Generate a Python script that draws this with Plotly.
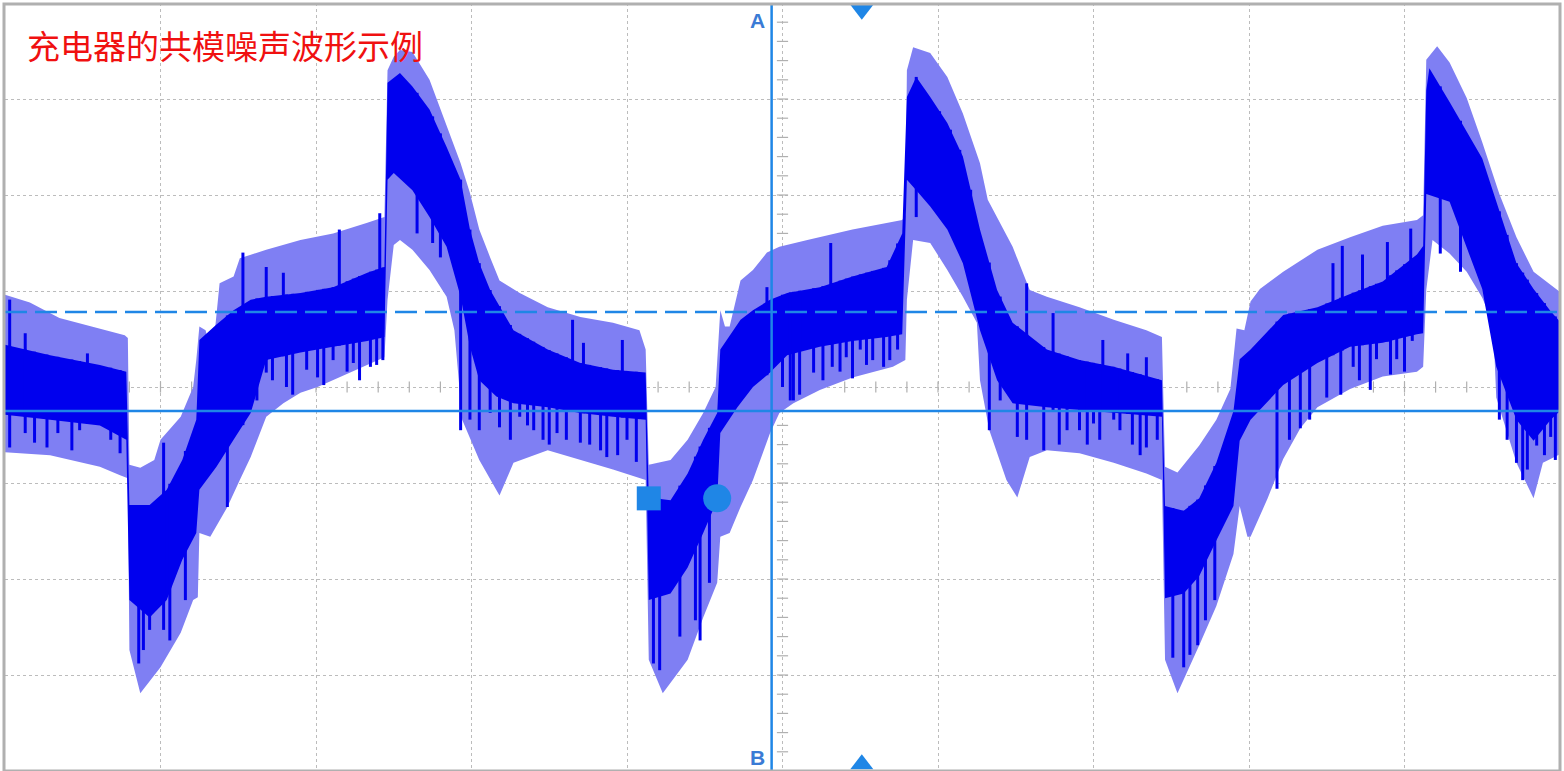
import numpy as np
import plotly.graph_objects as go

# ---- waveform envelopes (x in horizontal divisions 0..10, y in vertical divisions -4..4) ----
LU_X = [0.00, 0.16, 0.35, 0.61, 0.77, 0.79, 0.80, 0.87, 0.96, 1.00, 1.13, 1.21, 1.23, 1.25, 1.29, 1.32, 1.35, 1.38, 1.47, 1.51, 1.58, 1.68, 1.90, 2.11, 2.33, 2.44,
        2.46, 2.50, 2.54, 2.62, 2.73, 2.84, 2.93, 2.99, 3.05, 3.12, 3.18, 3.31, 3.49, 3.70, 3.91, 4.08, 4.12,
        4.14, 4.28, 4.39, 4.49, 4.57, 4.60, 4.63, 4.66, 4.73, 4.81, 4.90, 4.98, 5.16, 5.45, 5.77, 5.79,
        5.80, 5.84, 5.95, 6.06, 6.16, 6.27, 6.32, 6.38, 6.48, 6.59, 6.70, 6.91, 7.13, 7.34, 7.44,
        7.46, 7.54, 7.68, 7.79, 7.88, 7.92, 7.97, 8.01, 8.07, 8.22, 8.44, 8.65, 8.86, 9.08, 9.12,
        9.14, 9.21, 9.29, 9.40, 9.50, 9.61, 9.72, 9.83, 9.94, 10.0]
LU_Y = [0.96, 0.88, 0.72, 0.61, 0.54, 0.51, -0.81, -0.84, -0.76, -0.55, -0.31, 0.00, 0.28, 0.63, 0.59, 0.39, 0.59, 1.08, 1.15, 1.34, 1.38, 1.43, 1.53, 1.60, 1.71, 1.77,
        3.30, 3.44, 3.51, 3.49, 3.20, 2.71, 2.33, 2.02, 1.64, 1.35, 1.11, 0.98, 0.83, 0.73, 0.67, 0.59, 0.39,
        -0.81, -0.76, -0.55, -0.27, 0.00, 0.80, 0.63, 0.63, 1.11, 1.22, 1.40, 1.46, 1.53, 1.64, 1.74, 1.79,
        3.30, 3.54, 3.48, 3.23, 2.85, 2.33, 1.95, 1.77, 1.46, 1.01, 0.94, 0.83, 0.70, 0.59, 0.52,
        -0.83, -0.89, -0.61, -0.34, -0.02, 0.61, 0.59, 0.89, 1.02, 1.20, 1.43, 1.56, 1.68, 1.74, 1.79,
        3.41, 3.55, 3.38, 3.01, 2.55, 2.01, 1.56, 1.20, 1.06, 0.99]

LL_X = [0.00, 0.29, 0.61, 0.74, 0.79, 0.80, 0.87, 1.00, 1.13, 1.21, 1.24, 1.25, 1.32, 1.43, 1.51, 1.58, 1.68, 1.79, 1.90, 2.01, 2.22, 2.44,
        2.46, 2.50, 2.54, 2.62, 2.73, 2.84, 2.89, 2.94, 3.05, 3.18, 3.27, 3.49, 3.70, 3.91, 4.12,
        4.14, 4.23, 4.39, 4.49, 4.58, 4.60, 4.66, 4.73, 4.81, 4.92, 4.98, 5.07, 5.24, 5.45, 5.71, 5.79,
        5.80, 5.84, 5.95, 6.06, 6.16, 6.25, 6.27, 6.33, 6.44, 6.51, 6.59, 6.70, 6.91, 7.13, 7.34, 7.44,
        7.46, 7.54, 7.68, 7.79, 7.90, 7.94, 7.99, 8.01, 8.12, 8.22, 8.33, 8.44, 8.65, 8.86, 9.08, 9.12,
        9.14, 9.18, 9.29, 9.40, 9.50, 9.57, 9.59, 9.72, 9.83, 9.89, 10.0]
LL_Y = [-0.68, -0.71, -0.83, -0.92, -0.95, -2.74, -3.19, -2.92, -2.56, -2.22, -2.19, -1.52, -1.56, -1.25, -0.97, -0.73, -0.31, -0.17, -0.06, 0.00, 0.15, 0.31,
        0.91, 1.48, 1.53, 1.43, 1.22, 0.94, 0.59, -0.34, -0.76, -1.13, -0.79, -0.66, -0.76, -0.86, -0.97,
        -2.84, -3.19, -2.84, -2.40, -2.04, -1.56, -1.52, -1.25, -0.97, -0.48, -0.27, -0.17, -0.03, 0.10, 0.21, 0.28,
        0.91, 1.53, 1.50, 1.22, 0.94, 0.67, 0.07, -0.45, -0.97, -1.15, -0.73, -0.66, -0.69, -0.79, -0.90, -0.97,
        -2.84, -3.19, -2.69, -2.28, -1.74, -1.24, -1.56, -1.56, -1.16, -0.75, -0.43, -0.21, -0.02, 0.11, 0.16, 0.21,
        1.01, 1.53, 1.39, 1.20, 0.93, 0.66, -0.11, -0.79, -1.16, -0.79, -0.70]

DU_X = [0.00, 0.29, 0.61, 0.78, 0.80, 0.93, 1.04, 1.14, 1.23, 1.25, 1.36, 1.47, 1.58, 1.68, 1.90, 2.11, 2.33, 2.44,
        2.46, 2.54, 2.62, 2.73, 2.84, 2.93, 2.99, 3.05, 3.12, 3.27, 3.49, 3.70, 3.91, 4.12,
        4.14, 4.28, 4.39, 4.49, 4.58, 4.60, 4.73, 4.81, 4.92, 5.03, 5.24, 5.45, 5.67, 5.77,
        5.80, 5.86, 5.95, 6.06, 6.16, 6.27, 6.38, 6.48, 6.70, 6.91, 7.13, 7.44,
        7.46, 7.58, 7.68, 7.79, 7.90, 7.94, 8.01, 8.22, 8.44, 8.65, 8.86, 9.08, 9.12,
        9.14, 9.16, 9.29, 9.50, 9.61, 9.72, 9.83, 9.94, 10.0]
DU_Y = [0.44, 0.33, 0.23, 0.16, -1.23, -1.23, -1.07, -0.76, -0.34, 0.49, 0.65, 0.80, 0.91, 0.94, 0.98, 1.04, 1.19, 1.25,
        3.17, 3.27, 3.13, 2.89, 2.50, 2.16, 1.64, 1.29, 1.01, 0.59, 0.39, 0.25, 0.18, 0.15,
        -1.15, -1.18, -0.90, -0.55, -0.27, 0.39, 0.70, 0.80, 0.91, 0.98, 1.04, 1.15, 1.25, 1.60,
        3.02, 3.23, 3.02, 2.75, 2.40, 1.64, 1.01, 0.67, 0.39, 0.28, 0.21, 0.07,
        -1.24, -1.29, -1.16, -0.79, -0.25, 0.29, 0.39, 0.75, 0.83, 0.97, 1.10, 1.38, 1.47,
        3.09, 3.32, 2.97, 2.38, 1.83, 1.29, 1.02, 0.79, 0.68]

DL_X = [0.00, 0.29, 0.61, 0.78, 0.80, 0.93, 1.04, 1.14, 1.23, 1.25, 1.36, 1.47, 1.58, 1.68, 1.90, 2.11, 2.33, 2.44,
        2.46, 2.50, 2.62, 2.73, 2.84, 2.93, 2.99, 3.05, 3.16, 3.27, 3.49, 3.70, 3.91, 4.12,
        4.14, 4.28, 4.39, 4.49, 4.58, 4.60, 4.71, 4.81, 4.92, 5.03, 5.24, 5.45, 5.67, 5.77,
        5.80, 5.86, 5.95, 6.06, 6.16, 6.27, 6.38, 6.48, 6.70, 6.91, 7.13, 7.44,
        7.46, 7.58, 7.68, 7.79, 7.90, 7.94, 8.01, 8.22, 8.44, 8.65, 8.86, 9.08, 9.12,
        9.14, 9.29, 9.50, 9.59, 9.72, 9.83, 9.94, 10.0]
DL_Y = [-0.29, -0.34, -0.40, -0.55, -2.22, -2.40, -2.22, -1.80, -1.52, -1.07, -0.83, -0.55, -0.27, 0.28, 0.36, 0.42, 0.48, 0.52,
        2.16, 2.23, 2.05, 1.77, 1.46, 0.94, 0.42, 0.07, -0.10, -0.17, -0.21, -0.27, -0.31, -0.34,
        -2.22, -2.15, -1.88, -1.52, -1.18, -0.48, -0.21, 0.00, 0.15, 0.33, 0.42, 0.48, 0.52, 0.55,
        2.16, 2.05, 1.88, 1.64, 1.29, 0.59, 0.07, -0.17, -0.21, -0.24, -0.27, -0.31,
        -2.20, -2.15, -1.97, -1.60, -1.24, -0.56, -0.34, 0.02, 0.25, 0.42, 0.46, 0.55, 0.56,
        2.01, 1.93, 1.02, 0.21, -0.34, -0.56, -0.34, -0.25]

# noise spikes below the dark band (x, tip)
SPK_DN_X = [0.03, 0.13, 0.19, 0.27, 0.34, 0.43, 0.48, 0.68, 0.74, 0.86, 0.89, 0.93, 1.02, 1.06, 1.16,
            1.43, 1.62, 1.68, 1.72, 1.81, 1.85, 1.94, 2.01, 2.05, 2.11, 2.20, 2.24, 2.28, 2.35, 2.39, 2.43,
            2.65, 2.75, 2.80, 2.93, 2.99, 3.05, 3.12, 3.18, 3.25, 3.31, 3.36, 3.40, 3.46, 3.50, 3.55, 3.61,
            3.70, 3.76, 3.83, 3.87, 3.94, 4.00, 4.06,
            4.17, 4.21, 4.34, 4.44, 4.47, 4.53, 5.00, 5.05, 5.07, 5.11, 5.20, 5.26, 5.32, 5.37, 5.41, 5.45,
            5.50, 5.54, 5.58, 5.65, 5.69, 5.74,
            5.86, 6.01, 6.08, 6.14, 6.21, 6.33, 6.40, 6.51, 6.57, 6.68, 6.74, 6.78, 6.83, 6.91, 6.96, 7.00,
            7.04, 7.13, 7.17, 7.25, 7.30, 7.34, 7.41,
            7.51, 7.58, 7.62, 7.67, 7.72, 7.78, 8.18, 8.26, 8.33, 8.39, 8.50, 8.59, 8.67, 8.71, 8.78, 8.82,
            8.91, 8.95, 9.00, 9.05,
            9.23, 9.36, 9.61, 9.66, 9.72, 9.76, 9.79, 9.85, 9.90, 9.94, 9.97]
SPK_DN_Y = [-0.63, -0.48, -0.58, -0.63, -0.48, -0.66, -0.45, -0.55, -0.69, -2.88, -2.74, -2.53, -2.53, -2.64, -2.22,
            -1.25, -0.14, 0.15, 0.07, 0.00, -0.08, 0.18, 0.10, 0.02, 0.28, 0.16, 0.25, 0.07, 0.21, 0.23, 0.28,
            1.60, 1.50, 1.35, -0.45, -0.34, -0.45, -0.27, -0.42, -0.55, -0.31, -0.40, -0.45, -0.55, -0.60, -0.48, -0.55,
            -0.58, -0.60, -0.66, -0.73, -0.71, -0.55, -0.78,
            -2.88, -2.95, -2.60, -2.43, -2.64, -2.04, 0.00, -0.14, -0.14, -0.08, 0.15, 0.07, 0.21, 0.16, 0.31, 0.09,
            0.39, 0.23, 0.28, 0.21, 0.28, 0.39,
            1.77, 1.98, 1.74, 1.64, 1.22, -0.45, -0.14, -0.52, -0.55, -0.66, -0.24, -0.60, -0.45, -0.45, -0.60, -0.38,
            -0.55, -0.34, -0.45, -0.60, -0.71, -0.63, -0.55,
            -2.82, -2.92, -2.79, -2.69, -2.43, -2.22, -1.06, -0.55, -0.43, -0.34, -0.11, -0.08, 0.21, 0.07, -0.03, 0.29,
            0.13, 0.29, 0.16, 0.48,
            1.39, 1.20, -0.34, -0.55, -0.79, -0.97, -0.86, -0.61, -0.71, -0.52, -0.76]
# noise spikes above the dark band (x, tip)
SPK_UP_X = [0.03, 0.13, 0.53, 1.02, 1.53, 1.68, 1.79, 2.15, 2.41, 3.65, 3.72, 3.97,
            4.90, 5.31, 6.57, 6.74, 7.06, 7.22, 7.34, 8.54, 8.60, 8.73, 8.89, 9.04]
SPK_UP_Y = [0.91, 0.56, 0.35, -0.58, 1.40, 1.25, 1.19, 1.64, 1.81, 0.70, 0.46, 0.49,
            1.04, 1.50, 1.08, 0.77, 0.49, 0.35, 0.31, 1.29, 1.47, 1.38, 1.51, 1.65]

# cursors / markers
CURSOR_X = 4.93
CURSOR_Y_SOLID = -0.25
CURSOR_Y_DASH = 0.78
TRIG_X = 5.51
MARK_SQ = (4.14, -1.16)
MARK_CI = (4.58, -1.16)
TITLE = "充电器的共模噪声波形示例"

LIGHT = "#7f7ff3"
DARK = "#0000ee"
CUR = "#1f86e6"

fig = go.Figure()

# center-axis ticks (behind waveform)
tick_y = np.round(np.arange(-4, 4.001, 0.2), 2)
tick_x = np.round(np.arange(0, 10.001, 0.2), 2)
fig.add_trace(go.Scatter(x=[5.0] * len(tick_y), y=tick_y, mode="markers",
                         marker=dict(symbol="line-ew", size=8, line=dict(width=1.2, color="#b0b0b0")),
                         hoverinfo="skip", showlegend=False))
fig.add_trace(go.Scatter(x=tick_x, y=[0.0] * len(tick_x), mode="markers",
                         marker=dict(symbol="line-ns", size=8, line=dict(width=1.2, color="#b0b0b0")),
                         hoverinfo="skip", showlegend=False))

# light envelope
fig.add_trace(go.Scatter(x=LU_X + LL_X[::-1], y=LU_Y + LL_Y[::-1], fill="toself",
                         fillcolor=LIGHT, mode="lines", line=dict(width=0, color=LIGHT),
                         hoverinfo="skip", showlegend=False))
# dark band
fig.add_trace(go.Scatter(x=DU_X + DL_X[::-1], y=DU_Y + DL_Y[::-1], fill="toself",
                         fillcolor=DARK, mode="lines", line=dict(width=0, color=DARK),
                         hoverinfo="skip", showlegend=False))

# spikes
sx, sy = [], []
base_dn = np.interp(SPK_DN_X, DU_X, DU_Y)
for x, t, b in zip(SPK_DN_X, SPK_DN_Y, base_dn):
    sx += [x, x, None]
    sy += [float(b), t, None]
base_up = np.interp(SPK_UP_X, DL_X, DL_Y)
for x, t, b in zip(SPK_UP_X, SPK_UP_Y, base_up):
    sx += [x, x, None]
    sy += [float(b), t, None]
fig.add_trace(go.Scatter(x=sx, y=sy, mode="lines", line=dict(width=3, color=DARK),
                         hoverinfo="skip", showlegend=False, connectgaps=False))

# cursor lines
fig.add_trace(go.Scatter(x=[0, 10], y=[CURSOR_Y_SOLID] * 2, mode="lines",
                         line=dict(width=2.5, color=CUR), hoverinfo="skip", showlegend=False))
fig.add_trace(go.Scatter(x=[0, 10], y=[CURSOR_Y_DASH] * 2, mode="lines",
                         line=dict(width=2.5, color=CUR, dash="22px,8px"), hoverinfo="skip", showlegend=False))
fig.add_trace(go.Scatter(x=[CURSOR_X] * 2, y=[-4, 4], mode="lines",
                         line=dict(width=2.5, color=CUR), hoverinfo="skip", showlegend=False))

# measurement markers
fig.add_trace(go.Scatter(x=[MARK_SQ[0]], y=[MARK_SQ[1]], mode="markers",
                         marker=dict(symbol="square", size=24, color=CUR), hoverinfo="skip", showlegend=False))
fig.add_trace(go.Scatter(x=[MARK_CI[0]], y=[MARK_CI[1]], mode="markers",
                         marker=dict(symbol="circle", size=28, color=CUR), hoverinfo="skip", showlegend=False))
# trigger triangles
fig.add_trace(go.Scatter(x=[TRIG_X, TRIG_X], y=[3.93, -3.93], mode="markers",
                         marker=dict(symbol=["triangle-down", "triangle-up"], size=20, color=CUR),
                         hoverinfo="skip", showlegend=False, cliponaxis=False))

fig.add_annotation(x=CURSOR_X - 0.09, y=3.82, text="<b>A</b>", showarrow=False, xanchor="center",
                   font=dict(size=21, color="#3a7bd5", family="Liberation Sans"))
fig.add_annotation(x=CURSOR_X - 0.09, y=-3.86, text="<b>B</b>", showarrow=False, xanchor="center",
                   font=dict(size=21, color="#3a7bd5", family="Liberation Sans"))

fig.add_annotation(xref="paper", yref="paper", x=25 / 1564, y=1 - 45 / 771, text=TITLE,
                   showarrow=False, xanchor="left", yanchor="middle",
                   font=dict(size=33, color="#f01010", family="Noto Sans CJK SC"))

# frame
fig.add_shape(type="rect", xref="paper", yref="paper", x0=4 / 1564, x1=1560 / 1564, y0=0, y1=1 - 4 / 771,
              line=dict(color="#b0b0b0", width=3))

fig.update_xaxes(range=[0, 10], domain=[5 / 1564, 1560 / 1564], dtick=1, tick0=0, showgrid=True,
                 gridcolor="#bcbcbc", griddash="dot", gridwidth=1.2, showticklabels=False,
                 zeroline=False, ticks="", showline=False, fixedrange=True)
fig.update_yaxes(range=[-4, 4], domain=[0, 1 - 3 / 771], dtick=1, tick0=0, showgrid=True,
                 gridcolor="#bcbcbc", griddash="dot", gridwidth=1.2, showticklabels=False,
                 zeroline=False, ticks="", showline=False, fixedrange=True)

fig.update_layout(width=1564, height=771, margin=dict(l=0, r=0, t=0, b=0),
                  plot_bgcolor="white", paper_bgcolor="white", showlegend=False)

fig.write_html("out.html", config={"displayModeBar": False},
               post_script="document.body.style.margin='0';document.body.style.padding='0';"
                           "document.documentElement.style.overflow='hidden';")
